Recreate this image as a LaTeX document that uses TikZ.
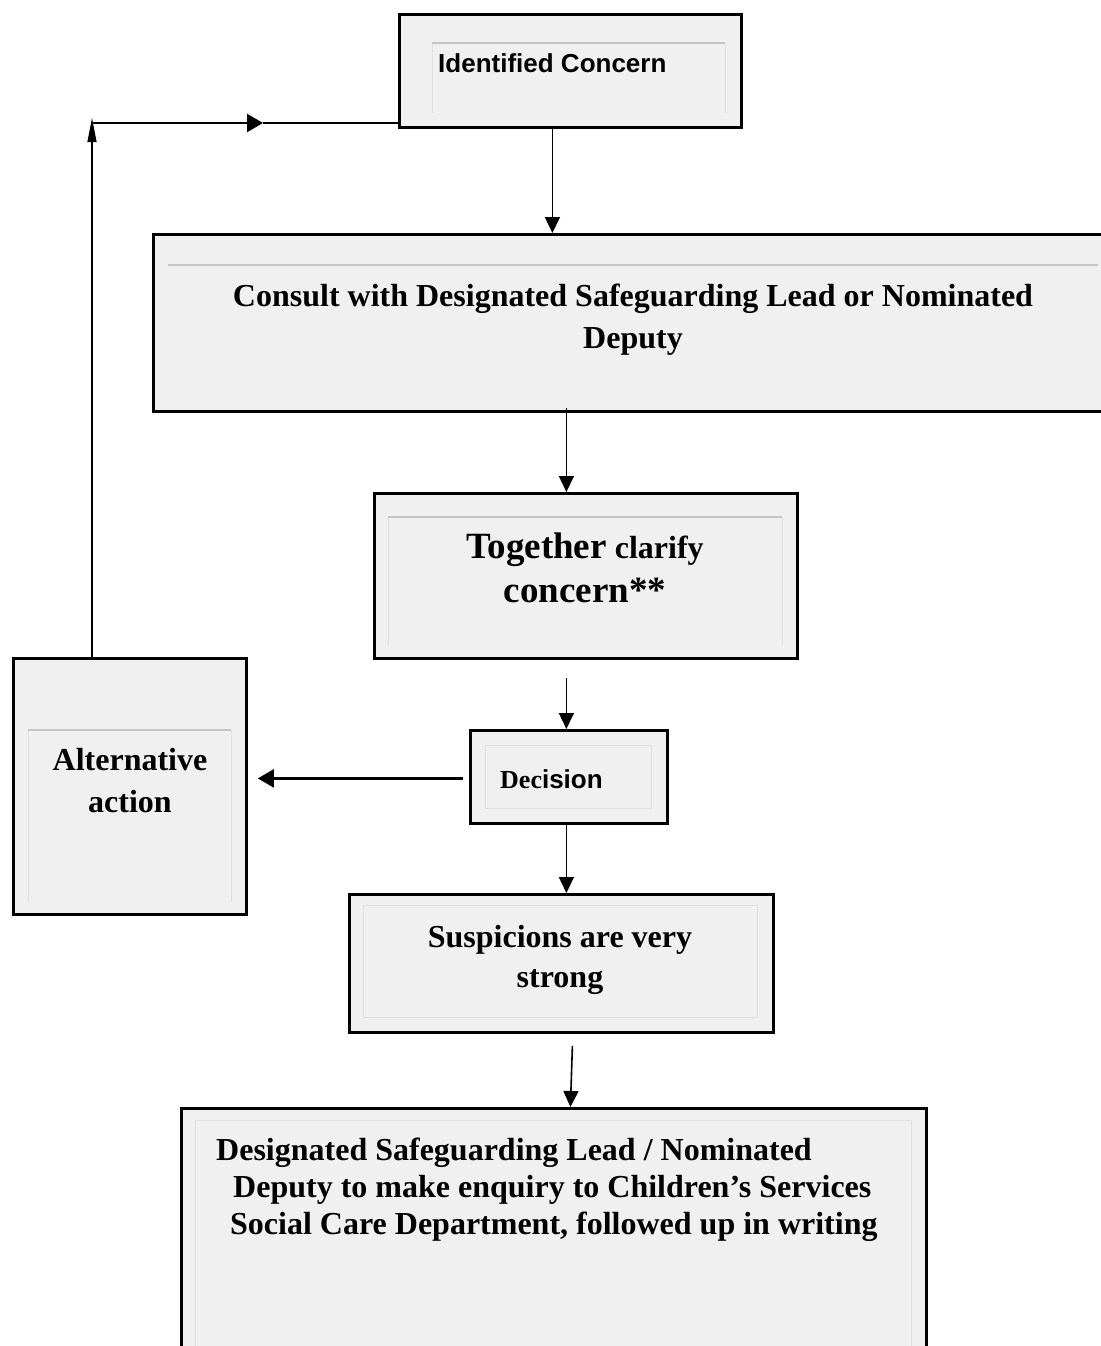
\documentclass[tikz,border=0pt]{standalone}
\usepackage{fontspec}
\setmainfont{Liberation Serif}
\newfontfamily\arialfont{Liberation Sans}
\usetikzlibrary{arrows.meta,calc}

\definecolor{boxfill}{HTML}{F0F0F0}
\definecolor{rimtop}{HTML}{C4C4C4}
\definecolor{rimside}{HTML}{E0E0E0}

\tikzset{
  box/.style={draw,line width=2.8pt,fill=boxfill,anchor=north west,inner sep=0pt},
  rim/.style={draw=rimside,line width=0.9pt},
  rimtop/.style={draw=rimtop,line width=1.8pt},
  txt/.style={font=\bfseries\fontsize{32}{42}\selectfont,align=center,inner sep=0pt},
  flow/.style={-{Triangle[length=16pt,width=15pt]},line width=1.6pt},
  back/.style={-{Triangle[length=16pt,width=18pt]},line width=2.2pt},
}

\begin{document}
\begin{tikzpicture}[x=1pt,y=-1pt]
\useasboundingbox (0,0) rectangle (1100,1346);

% boxes
\node[box,minimum width=342pt,minimum height=113pt] (ident) at (398,13) {};
\node[box,minimum width=954pt,minimum height=177pt] (consult) at (152,233) {};
\node[box,minimum width=423pt,minimum height=165pt] (together) at (373,492) {};
\node[box,minimum width=197pt,minimum height=93pt] (decision) at (469,729) {};
\node[box,minimum width=233pt,minimum height=256pt] (alt) at (12,657) {};
\node[box,minimum width=424pt,minimum height=138pt] (susp) at (348,893) {};
\node[box,minimum width=745pt,minimum height=260pt] (report) at (180,1107) {};

% inner frames
\draw[rim] (432,113) -- (432,43) (725,43) -- (725,113);
\draw[rimtop] (432,43) -- (725,43);
\draw[rimtop] (168,265) -- (1098,265);
\draw[rim] (388,645) -- (388,517) (782,517) -- (782,645);
\draw[rimtop] (388,517) -- (782,517);
\draw[rim] (485,745) rectangle (651,808);
\draw[rim] (28,902) -- (28,730) (231,730) -- (231,902);
\draw[rimtop] (28,730) -- (231,730);
\draw[rim] (363,905) rectangle (757,1017);
\draw[rim] (195,1350) -- (195,1120) -- (911,1120) -- (911,1350);

% texts (base = last line)
\node[anchor=base west,inner sep=0pt,font=\arialfont\bfseries\fontsize{26}{30}\selectfont] (identtxt) at (438,72) {Identified Concern};
\node[txt,anchor=base] (consulttxt) at (633,348) {Consult with Designated Safeguarding Lead or Nominated\\Deputy};
\node[txt,anchor=base,font=\bfseries\fontsize{32}{44}\selectfont] (togethertxt) at (585,602)
  {{\fontsize{37}{44}\selectfont Together} clarify\\{\fontsize{37}{44}\selectfont concern**}};
\node[anchor=base west,inner sep=0pt,font=\bfseries\fontsize{26}{30}\selectfont] (decisiontxt) at (500,788) {Dec{\arialfont ision}};
\node[txt,anchor=base] (alttxt) at (130,812) {Alternative\\action};
\node[txt,anchor=base,font=\bfseries\fontsize{32}{40}\selectfont] (susptxt) at (560,987) {Suspicions are very\\strong};
\node[txt,anchor=base west,align=left,font=\bfseries\fontsize{32}{37}\selectfont] (reporttxt) at (216,1234)
  {Designated Safeguarding Lead / Nominated\\\hspace*{17pt}Deputy to make enquiry to Children’s Services\\\hspace*{14pt}Social Care Department, followed up in writing};

% connectors
\draw[flow] ([xshift=-18pt]ident.south) -- ([xshift=-78pt]consult.north);
\draw[flow] ([xshift=-64pt,yshift=5pt]consult.south) -- ([xshift=-19.5pt]together.north);
\draw[flow] ([xshift=-19.5pt,yshift=-18pt]together.south) -- ([xshift=-2.5pt]decision.north);
\draw[back] ([xshift=-6pt,yshift=-1.5pt]decision.west) -- ([xshift=10pt,yshift=8pt]alt.east);
\draw[flow] ([xshift=-2.5pt]decision.south) -- ([xshift=5pt]susp.north);
\draw[flow] ([xshift=11pt,yshift=-12pt]susp.south) -- ([xshift=16.5pt]report.north);

% loop back to the concern
\coordinate (loop) at (92,123);
\coordinate (loopmid) at (263,123);
\draw[-{Triangle[length=24pt,width=9pt]},line width=1.2pt] (loop |- alt.north) -- ([yshift=5pt]loop);
\draw[back] (loop) -- (loopmid);
\draw[line width=2.2pt] (loopmid) -- (loopmid -| ident.west);
\end{tikzpicture}
\end{document}
